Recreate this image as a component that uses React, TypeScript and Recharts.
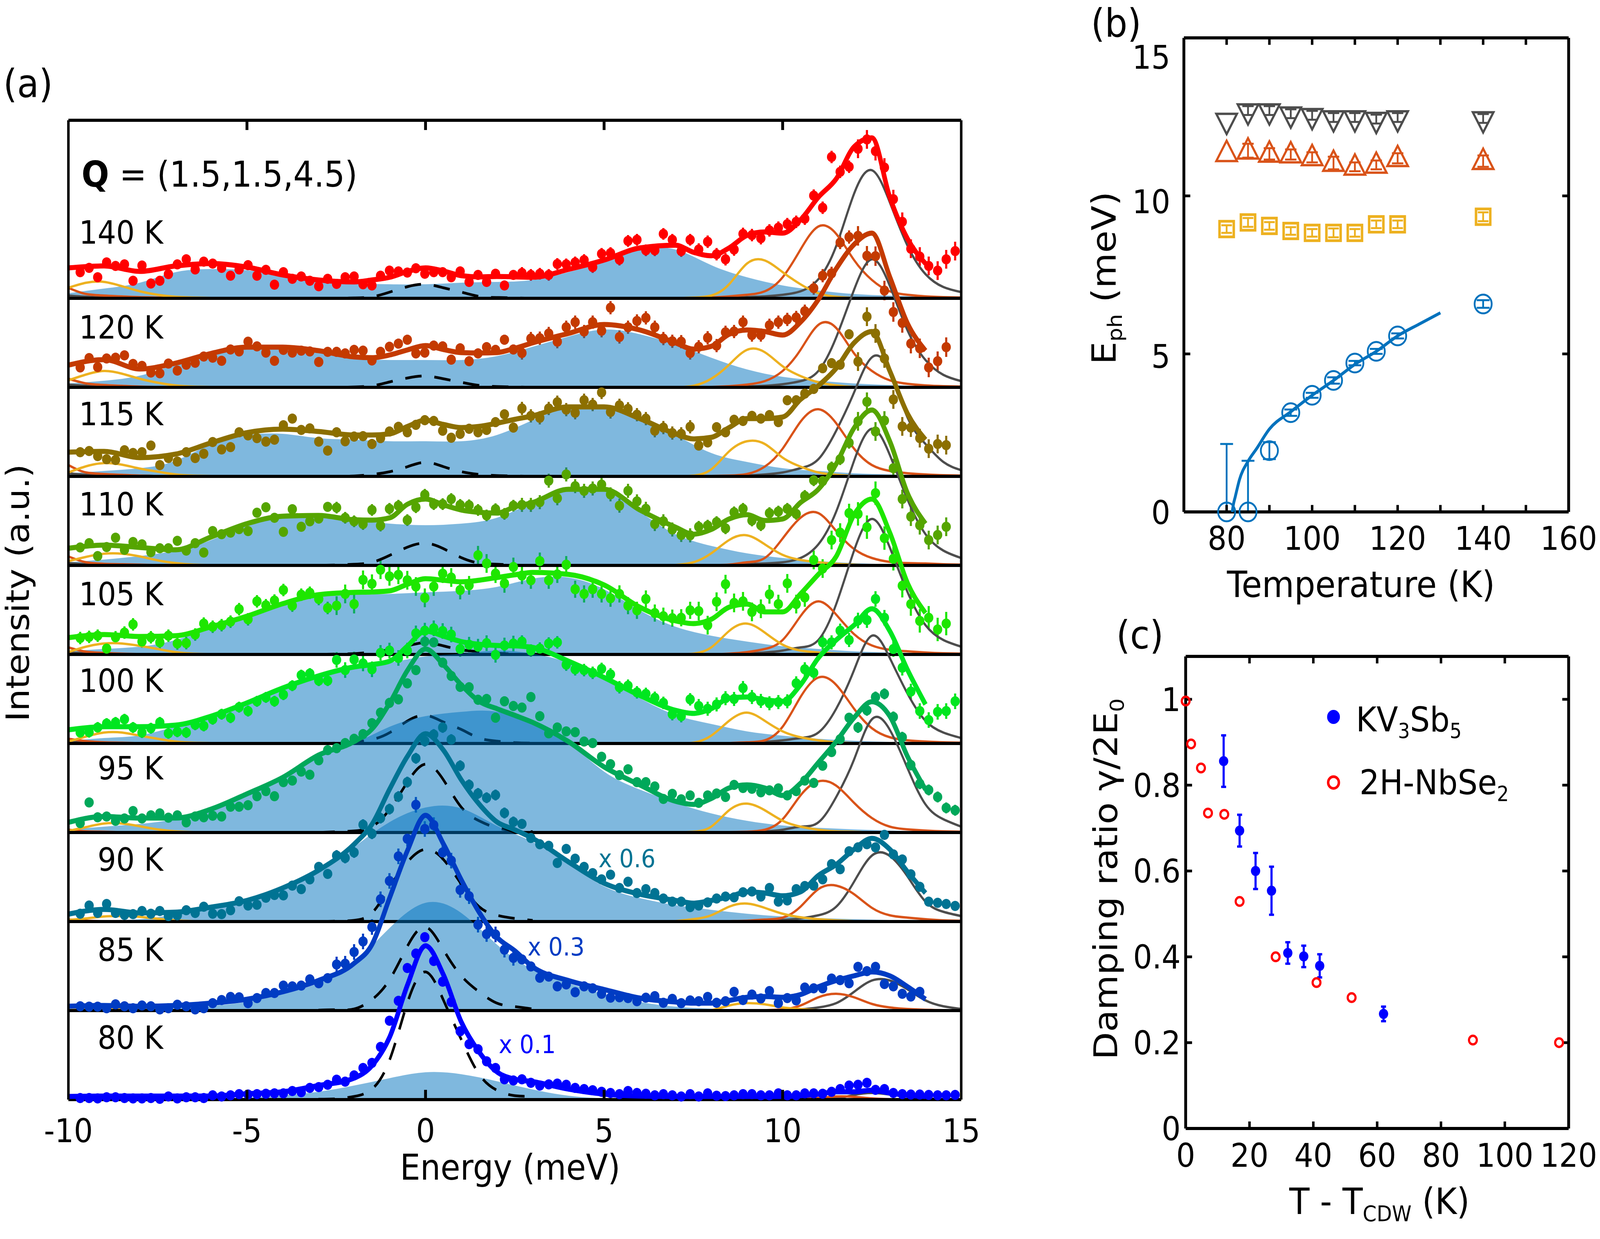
import React from 'react';
import { ComposedChart, Area, Line, Scatter, XAxis, YAxis, ReferenceLine, ErrorBar } from 'recharts';

const W = 4491, H = 3173;
const FONT = '"DejaVu Sans"';

// Energy grids (meV)
const FIT_E = [-10,-9,-8,-7,-6,-5,-4,-3,-2,-1.5,-1,-0.5,0,0.5,1,1.5,2,2.5,3,4,5,6,7,7.5,8,8.5,9,9.5,10,10.5,11,11.5,12,12.5,13,13.5,14];
const AREA_E = [-10,-9,-8,-7,-6,-5,-4,-3,-2,-1,0,1,2,3,4,5,6,7,8,9,10,11,12,13,14,15];
const PEAK_E = [7,7.5,8,8.5,9,9.5,10,10.5,11,11.5,12,12.5,13,13.5,14,14.5,15];
const LEFT_E = [-10,-9.5,-9,-8.5,-8,-7.5,-7,-6.5,-6];
const DASH_E = [-3,-2.5,-2,-1.5,-1,-0.5,0,0.5,1,1.5,2,2.5,3];
const POINT_E = [-9.67,-9.42,-9.18,-8.93,-8.68,-8.43,-8.19,-7.94,-7.69,-7.44,-7.20,-6.95,-6.70,-6.45,-6.21,-5.96,-5.71,-5.46,-5.22,-4.97,-4.72,-4.47,-4.23,-3.98,-3.73,-3.48,-3.24,-2.99,-2.74,-2.49,-2.25,-2.00,-1.75,-1.50,-1.26,-1.01,-0.76,-0.51,-0.27,-0.02,0.23,0.48,0.72,0.97,1.22,1.47,1.71,1.96,2.21,2.46,2.70,2.95,3.20,3.45,3.69,3.94,4.19,4.44,4.68,4.93,5.18,5.43,5.67,5.92,6.17,6.42,6.66,6.91,7.16,7.41,7.65,7.90,8.15,8.40,8.64,8.89,9.14,9.39,9.63,9.88,10.13,10.38,10.62,10.87,11.12,11.37,11.61,11.86,12.11,12.36,12.60,12.85,13.10,13.35,13.59,13.84,14.09,14.34,14.58,14.83];

// Measured intensity (a.u., 228 units per panel)
const P140 = [67,78,54,92,83,87,45,84,38,45,62,87,100,74,94,89,78,58,74,85,58,73,35,67,50,56,45,31,50,37,54,56,36,33,58,71,69,66,77,63,67,67,54,69,42,60,42,63,33,60,65,60,63,60,88,87,92,98,80,114,116,99,147,150,123,123,165,150,121,150,125,145,113,100,125,165,162,154,174,181,190,196,204,263,232,362,324,337,383,407,377,335,254,196,127,107,83,71,100,121];
const P120 = [51,75,52,74,76,82,60,55,38,36,61,43,58,63,79,76,68,97,92,117,105,89,68,96,89,94,92,65,91,91,87,96,94,69,91,104,112,122,87,89,107,105,71,100,67,87,103,96,122,97,88,125,126,138,117,154,167,143,167,145,204,129,154,170,178,154,125,118,117,88,104,127,107,141,143,167,134,134,159,167,174,179,195,254,286,292,371,385,388,337,336,248,193,165,112,100,51,67,103];
const P115 = [62,65,52,44,42,67,60,62,79,29,47,38,62,47,58,88,69,75,113,105,98,89,94,131,148,119,123,89,66,113,90,102,103,83,98,115,127,113,132,144,142,117,99,109,122,113,119,139,159,125,174,155,150,174,190,171,163,195,184,215,165,182,173,158,148,117,125,111,109,127,79,87,126,113,145,142,155,148,157,139,195,195,212,224,277,290,286,364,294,409,366,302,197,128,125,98,71,83,80];
const P110 = [46,57,24,47,71,40,60,54,34,44,44,63,38,57,33,88,80,84,93,88,135,149,122,86,144,99,113,120,150,148,122,113,106,142,102,145,153,116,149,181,157,157,170,155,154,142,128,144,132,153,155,155,162,217,172,233,203,191,197,207,182,153,191,164,145,106,113,92,78,77,99,102,111,95,136,145,115,103,134,138,145,132,178,218,216,251,272,314,369,419,343,371,249,170,125,103,65,78,99];
const P105 = [42,45,48,15,44,56,77,33,44,31,48,28,29,51,79,71,75,84,116,90,136,126,138,165,125,153,158,142,119,125,155,129,191,181,217,200,204,190,174,145,174,207,197,165,177,254,233,207,182,224,202,190,239,190,205,230,167,155,167,155,144,155,125,113,142,106,98,93,94,113,111,75,135,180,132,136,109,117,154,129,182,129,146,242,220,293,312,362,360,326,413,298,245,176,129,86,94,64,79];
const P100 = [28,29,41,51,54,62,41,28,39,54,26,30,28,48,45,62,75,66,93,83,108,118,108,125,148,175,179,161,161,214,188,215,205,190,232,238,219,238,282,289,295,288,279,242,253,248,257,227,251,256,261,238,243,256,259,202,190,188,181,191,177,144,148,131,127,117,104,75,70,113,96,89,100,116,114,142,119,109,103,106,108,154,190,181,259,259,289,265,315,316,370,322,242,194,133,83,60,81,83,108];
const P95 = [24,77,39,41,30,36,55,36,44,49,38,44,26,41,39,43,41,66,66,70,93,106,93,129,133,156,148,185,211,216,229,240,252,280,307,332,341,382,416,489,487,435,401,373,372,340,342,294,336,324,320,347,298,254,269,259,257,233,229,194,175,147,162,129,129,118,86,99,85,95,76,95,100,91,122,114,112,103,108,113,95,106,133,127,171,206,239,294,269,313,347,355,296,244,173,125,109,91,63,57];
const P90 = [20,41,22,45,22,17,19,27,20,27,14,16,29,22,38,20,19,29,52,41,43,61,68,67,92,83,108,140,122,169,163,177,248,225,265,288,320,357,418,462,479,497,466,399,350,328,317,324,278,255,250,214,198,194,150,186,161,140,124,108,120,86,102,73,83,73,59,51,51,37,41,49,59,64,62,75,77,64,86,51,54,83,91,92,108,147,134,180,190,198,190,222,172,159,121,89,51,48,45,40];
const P85 = [11,10,10,6,16,11,6,13,11,3,6,15,11,3,6,19,27,35,34,19,32,45,45,64,62,64,80,70,83,118,120,150,177,214,285,332,395,440,527,465,475,405,384,309,293,220,196,195,156,135,131,113,84,87,62,67,47,62,57,43,33,34,32,24,33,37,20,30,19,26,24,35,20,24,48,27,41,31,50,19,32,26,59,57,57,82,78,70,112,101,112,68,62,43,36,48];
const P80 = [4,4,3,6,6,4,3,3,4,2,8,3,6,6,4,11,8,11,14,13,14,15,16,16,22,19,30,32,38,51,46,62,81,94,135,202,253,337,374,416,355,302,250,175,142,129,98,81,52,49,52,43,36,39,41,38,30,27,24,20,17,14,22,17,15,11,14,11,8,14,8,16,10,9,11,14,14,11,11,16,11,11,16,16,15,20,27,36,38,43,25,27,17,14,13,13,12,11,11,12];

// Fit curves on FIT_E
const FIT140 = [78,83,69,83,89,80,60,47,42,47,54,69,78,70,58,55,56,55,54,74,98,129,136,118,109,129,161,170,167,201,259,306,388,411,259,152,89];
const FIT120 = [57,71,47,62,87,103,103,94,78,76,83,96,107,97,89,88,89,100,114,138,161,147,114,98,105,136,147,143,134,167,225,304,366,395,283,163,94];
const FIT115 = [62,64,48,57,86,112,121,115,106,106,109,128,144,133,125,128,136,146,155,178,178,148,109,96,100,125,148,148,152,197,232,277,342,371,270,160,94];
const FIT110 = [44,52,46,40,73,107,126,128,117,116,122,157,170,155,142,136,134,150,161,195,195,142,98,80,92,119,130,115,119,161,195,260,352,398,318,184,107];
const FIT105 = [43,51,46,48,71,98,130,153,159,160,163,180,194,190,186,190,197,204,210,205,178,121,86,79,90,121,129,109,109,155,205,251,358,398,312,182,106];
const FIT100 = [35,43,43,47,70,104,142,173,196,202,211,250,288,275,261,254,251,250,246,211,169,123,85,77,89,116,119,112,108,150,219,265,303,345,288,188,100];
const FIT95 = [26,41,37,37,60,99,141,198,233,265,332,416,470,430,378,336,317,300,282,233,168,122,80,72,87,114,122,114,95,126,179,233,294,335,298,194,110];
const FIT90 = [19,31,22,24,37,54,86,131,198,249,340,424,481,439,363,301,255,235,213,153,98,70,54,47,54,63,76,73,66,76,118,146,185,213,185,127,73];
const FIT85 = [11,13,11,13,19,29,48,77,121,169,290,411,500,427,335,252,188,153,112,77,54,32,22,19,19,26,34,36,34,41,61,77,89,99,89,61,29];
const FIT80 = [8,9,9,9,9,15,20,36,55,87,161,295,394,320,199,122,71,52,46,27,14,9,8,8,8,8,8,8,8,10,14,20,20,24,17,11,8];

// Broad central mode on AREA_E
const BLUE140 = [13,25,40,67,75,72,58,44,38,36,36,40,42,47,67,94,125,125,85,54,33,20,11,7,4,2];
const BLUE120 = [10,17,30,58,83,100,102,90,75,70,70,70,80,104,130,148,136,110,76,46,27,17,10,6,3,2];
const BLUE115 = [8,14,21,40,83,106,109,98,94,90,90,90,106,144,175,175,148,106,60,37,21,14,8,5,2,1];
const BLUE110 = [8,15,24,38,65,103,122,122,115,107,103,107,122,161,191,191,138,80,50,31,19,11,6,3,2,1];
const BLUE105 = [8,14,20,37,67,94,127,148,153,155,159,163,173,194,197,167,113,71,48,33,21,14,8,5,3,2];
const BLUE100 = [6,14,21,43,66,100,139,169,192,207,223,230,238,230,207,165,116,73,50,31,20,12,7,4,2,1];
const BLUE95 = [7,15,22,34,57,95,137,194,229,271,298,309,309,275,229,156,110,76,49,30,18,12,8,5,3,2];
const BLUE90 = [3,4,6,18,32,50,83,128,191,255,292,290,245,204,148,90,60,42,30,20,13,9,6,4,2,1];
const BLUE85 = [2,2,3,6,12,22,42,70,124,212,276,250,169,105,70,42,22,10,5,3,2,1,1,0,0,0];
const BLUE80 = [0,0,0,0,1,5,11,20,36,55,70,65,47,26,10,3,1,0,0,0,0,0,0,0,0,0];

// Phonon peaks on PEAK_E
const YEL140 = [0,2,7,36,89,97,67,36,13,4,1,0,0,0,0,0,0];
const ORG140 = [0,0,2,5,9,18,54,125,184,165,98,47,18,9,5,3,2];
const GRY140 = [0,0,0,1,3,5,9,18,49,134,268,328,246,134,62,29,16];
const YEL120 = [0,4,22,58,96,90,54,29,13,5,1,0,0,0,0,0,0];
const ORG120 = [0,0,1,3,7,16,42,96,160,152,87,42,18,9,5,3,2];
const GRY120 = [0,0,0,0,2,4,8,16,42,128,250,328,260,145,70,32,16];
const YEL115 = [0,2,18,64,90,83,48,25,10,4,1,0,0,0,0,0,0];
const ORG115 = [0,0,1,2,6,25,71,140,172,136,71,29,14,8,5,3,2];
const GRY115 = [0,0,0,1,2,5,10,21,44,117,215,305,270,150,83,37,16];
const YEL110 = [1,8,31,65,77,54,27,14,8,4,2,0,0,0,0,0,0];
const ORG110 = [0,0,1,2,8,19,69,122,134,88,42,19,9,6,5,3,2];
const GRY110 = [0,0,0,1,3,5,8,19,54,138,268,350,283,168,80,38,19];
const YEL105 = [0,2,18,60,79,56,25,10,5,2,1,0,0,0,0,0,0];
const ORG105 = [0,0,0,2,6,14,37,98,136,102,52,23,12,8,5,3,2];
const GRY105 = [0,0,0,0,2,5,10,18,37,129,266,347,274,159,75,37,20];
const YEL100 = [0,2,20,58,79,58,31,16,8,3,1,0,0,0,0,0,0];
const ORG100 = [0,0,0,1,3,8,43,119,169,150,89,39,16,8,5,3,2];
const GRY100 = [0,0,0,0,1,4,8,14,28,89,188,276,219,127,58,28,14];
const YEL95 = [0,2,15,57,74,57,30,15,7,3,2,0,0,0,0,0,0];
const ORG95 = [0,0,0,1,2,7,34,95,131,120,76,37,15,8,5,3,2];
const GRY95 = [0,0,0,0,1,3,7,15,26,91,187,290,263,164,72,34,15];
const YEL90 = [1,6,16,38,46,35,20,11,6,3,1,0,0,0,0,0,0];
const ORG90 = [0,0,0,1,2,5,10,38,83,92,70,35,16,10,6,3,2];
const GRY90 = [0,0,0,0,0,2,4,8,16,38,102,169,168,115,51,25,14];
const YEL85 = [0,0,1,13,19,16,8,4,1,0,0,0,0,0,0,0,0];
const ORG85 = [0,0,0,0,0,1,3,13,34,43,34,17,8,4,2,1,1];
const GRY85 = [0,0,0,0,0,0,1,3,8,19,48,77,77,54,26,11,4];
const YEL80 = [0,0,0,1,3,3,2,1,0,0,0,0,0,0,0,0,0];
const ORG80 = [0,0,0,0,0,0,1,2,4,8,7,3,1,0,0,0,0];
const GRY80 = [0,0,0,0,0,0,0,1,2,3,12,17,13,7,3,1,0];

// Anti-Stokes side on LEFT_E
const LY140 = [27,40,42,31,18,9,4,2,1];
const LY120 = [18,33,42,35,22,12,5,2,1];
const LY115 = [10,26,34,30,20,12,5,2,1];
const LY110 = [11,22,30,30,23,13,6,2,1];
const LY105 = [6,20,28,28,22,14,6,2,1];
const LY100 = [5,18,28,28,20,12,5,2,1];
const LY95 = [4,14,23,23,16,8,3,1,0];
const LY90 = [4,8,13,14,12,7,3,1,0];
const LY85 = [1,3,4,4,3,2,1,0,0];
const LY80 = [0,0,1,1,1,0,0,0,0];
const LO140 = [27,11,7,5,3,2,1,0,0];
const LO120 = [22,10,6,4,2,1,1,0,0];
const LO115 = [29,10,6,4,2,1,1,0,0];
const LO110 = [23,8,4,3,2,1,1,0,0];
const LO105 = [18,7,4,2,1,1,0,0,0];
const LO100 = [12,6,3,2,1,1,0,0,0];
const LO95 = [7,3,2,1,1,0,0,0,0];
const LO90 = [5,2,1,1,0,0,0,0,0];
const LO85 = [1,0,0,0,0,0,0,0,0];
const LO80 = [0,0,0,0,0,0,0,0,0];
const LG140 = [7,4,2,2,1,1,0,0,0];
const LG120 = [7,4,2,2,1,1,0,0,0];
const LG115 = [8,4,3,2,2,1,1,0,0];
const LG110 = [6,3,2,1,1,0,0,0,0];
const LG105 = [5,3,2,1,1,0,0,0,0];
const LG100 = [4,2,1,1,0,0,0,0,0];
const LG95 = [3,1,1,0,0,0,0,0,0];
const LG90 = [2,1,0,0,0,0,0,0,0];
const LG85 = [0,0,0,0,0,0,0,0,0];
const LG80 = [0,0,0,0,0,0,0,0,0];

// Dashed elastic-line curves on DASH_E
const D140 = [0,0,1,4,16,30,36,27,16,5,2,1,0];
const D120 = [0,0,1,4,14,24,29,22,13,5,2,1,0];
const D115 = [0,0,1,5,12,25,36,25,12,5,2,1,0];
const D110 = [0,1,3,8,26,47,57,43,20,6,3,1,0];
const D105 = [0,1,2,6,12,22,30,22,12,7,3,1,0];
const D100 = [0,1,4,10,28,58,72,55,36,14,6,2,1];
const D95 = [0,2,4,15,60,130,175,135,65,30,12,5,2];
const D90 = [0,1,3,22,89,153,185,159,96,38,16,8,3];
const D85 = [1,2,4,28,80,166,214,156,89,48,19,10,4];
const D80 = [1,2,8,27,103,250,327,255,154,65,24,10,9];

// Error half-lengths by energy zone
const ERR_ZONE_LIMITS = [-2.5,2.5,7.5,12];
const ERR140 = [8,10,15,16,24];
const ERR120 = [10,13,17,17,25];
const ERR115 = [10,13,17,13,24];
const ERR110 = [10,15,18,15,24];
const ERR105 = [16,24,22,24,30];
const ERR100 = [14,20,16,18,20];
const ERR95 = [8,13,10,10,14];
const ERR90 = [6,14,8,8,10];
const ERR85 = [4,20,6,6,8];
const ERR80 = [2,10,3,3,3];

const TEMPS = ['140 K','120 K','115 K','110 K','105 K','100 K','95 K','90 K','85 K','80 K'];
const COLORS = ['#ff0000','#c43a00','#8c6f00','#55a500','#1ee600','#00e620','#00a85a','#007393','#003cc3','#0000ff'];
const LABEL_Y = [596,839,1061,1292,1522,1744,1968,2202,2433,2658];
const SERIES = [
  [P140,FIT140,BLUE140,YEL140,ORG140,GRY140,LY140,LO140,LG140,D140,ERR140],
  [P120,FIT120,BLUE120,YEL120,ORG120,GRY120,LY120,LO120,LG120,D120,ERR120],
  [P115,FIT115,BLUE115,YEL115,ORG115,GRY115,LY115,LO115,LG115,D115,ERR115],
  [P110,FIT110,BLUE110,YEL110,ORG110,GRY110,LY110,LO110,LG110,D110,ERR110],
  [P105,FIT105,BLUE105,YEL105,ORG105,GRY105,LY105,LO105,LG105,D105,ERR105],
  [P100,FIT100,BLUE100,YEL100,ORG100,GRY100,LY100,LO100,LG100,D100,ERR100],
  [P95,FIT95,BLUE95,YEL95,ORG95,GRY95,LY95,LO95,LG95,D95,ERR95],
  [P90,FIT90,BLUE90,YEL90,ORG90,GRY90,LY90,LO90,LG90,D90,ERR90],
  [P85,FIT85,BLUE85,YEL85,ORG85,GRY85,LY85,LO85,LG85,D85,ERR85],
  [P80,FIT80,BLUE80,YEL80,ORG80,GRY80,LY80,LO80,LG80,D80,ERR80],
];
const ENERGY_TICKS = [-10,-5,0,5,10,15];
const ENERGY_MARKS = [-5,0,5,10];
const PANEL_H = 228;
const STACK_MAX = 2508;

// Panel (b)
const TEMP_K = [80,85,90,95,100,105,110,115,120,140];
const E_GRAY = [12.4,12.7,12.7,12.6,12.55,12.48,12.48,12.43,12.48,12.45];
const E_ORANGE = [11.35,11.43,11.33,11.31,11.22,11.04,10.92,10.98,11.19,11.1];
const E_YELLOW = [8.95,9.16,9.05,8.89,8.83,8.83,8.83,9.1,9.1,9.34];
const E_BLUE = [0,0,1.94,3.14,3.69,4.16,4.71,5.08,5.57,6.58];
const ERR_GRAY = [0,0.14,0.14,0.14,0.14,0.14,0.14,0.14,0.14,0.14];
const ERR_ORANGE = [0,0.22,0.18,0.16,0.16,0.2,0.14,0.14,0.16,0.18];
const ERR_YELLOW = [0.12,0.14,0.12,0.12,0.12,0.14,0.12,0.12,0.12,0.14];
const ERR_BLUE_UP = [2.15,1.62,0.27,0.1,0.08,0.1,0.07,0.08,0.08,0.12];
const ERR_BLUE_DN = [0,0,0.27,0.1,0.08,0.1,0.07,0.08,0.08,0.12];
const GAP_T = [81.3,81.6,82,83,85,87,90,95,100,105,110,115,120,125,130];
const GAP_E = [0,0.25,0.47,1.02,1.6,2.0,2.62,3.17,3.69,4.16,4.67,5.08,5.57,5.94,6.3];
const B_X_LABELS = [80,100,120,140,160];
const B_X_MARKS = [80,90,100,110,120,130,140,150];
const B_Y_LABELS = [0,5,10,15];
const B_Y_MARKS = [5,10];
const B_Y_LABEL_SHIFT = [2,6,15,50];

// Panel (c)
const KV_X = [11.9,16.9,21.9,26.9,32,37,42,62];
const KV_Y = [0.856,0.694,0.6,0.554,0.409,0.401,0.379,0.267];
const KV_ERR = [0.06,0.037,0.042,0.056,0.025,0.025,0.027,0.017];
const NB_X = [0,1.7,4.8,7,12.1,16.9,28.2,41,52,90,117];
const NB_Y = [0.996,0.896,0.84,0.735,0.732,0.529,0.4,0.34,0.305,0.206,0.2];
const C_X_LABELS = [0,20,40,60,80,100,120];
const C_X_MARKS = [20,40,60,80,100];
const C_Y_LABELS = [0,0.2,0.4,0.6,0.8,1];
const C_Y_MARKS = [0.2,0.4,0.6,0.8,1];

const rows = (xs: number[], ys: number[], base = 0) => ys.map((y, i) => ({ x: xs[i], y: y + base }));

const zoneOf = (e: number) => { let z = 0; ERR_ZONE_LIMITS.forEach((l) => { if (e > l) z += 1; }); return z; };

const Dot = (r: number, color: string) => (p: any) => <circle cx={p.cx} cy={p.cy} r={r} fill={color} />;
const Ring = (r: number, color: string, sw: number) => (p: any) => <circle cx={p.cx} cy={p.cy} r={r} fill="none" stroke={color} strokeWidth={sw} />;
const Up = (color: string) => (p: any) => <path d={`M${p.cx} ${p.cy - 32}L${p.cx + 29} ${p.cy + 20}L${p.cx - 29} ${p.cy + 20}Z`} fill="none" stroke={color} strokeWidth={6} strokeLinejoin="miter" />;
const Down = (color: string) => (p: any) => <path d={`M${p.cx} ${p.cy + 36}L${p.cx + 29} ${p.cy - 16}L${p.cx - 29} ${p.cy - 16}Z`} fill="none" stroke={color} strokeWidth={6} strokeLinejoin="miter" />;
const Sq = (color: string) => (p: any) => <rect x={p.cx - 20} y={p.cy - 20} width={40} height={40} fill="none" stroke={color} strokeWidth={7} />;

const Txt = ({ x, y, size = 84, anchor = 'left', color = '#000', rot = 0, children }: any) => {
  const tx = anchor === 'left' ? '0' : anchor === 'right' ? '-100%' : '-50%';
  return (
    <div style={{ position: 'absolute', left: x, top: y, fontSize: size, fontFamily: FONT, color, lineHeight: 1, whiteSpace: 'nowrap', transform: `translate(${tx},-50%)${rot ? ` rotate(${rot}deg)` : ''}` }}>
      {children}
    </div>
  );
};
const Sub = ({ children, s = 0.6 }: any) => <span style={{ fontSize: `${s}em`, position: 'relative', top: '0.32em' }}>{children}</span>;

const layer: any = { position: 'absolute', left: 0, top: 0 };

// Short inward tick marks, placed through the chart's own scales
const xMarks = (vals: number[], y0: number, y1: number, len: number, z: number, sw = 7) => vals.flatMap((v) => [
  <ReferenceLine key={`b${v}`} segment={[{ x: v, y: y0 }, { x: v, y: y0 + len }]} stroke="#000" strokeWidth={sw} zIndex={z} />,
  <ReferenceLine key={`t${v}`} segment={[{ x: v, y: y1 }, { x: v, y: y1 - len }]} stroke="#000" strokeWidth={sw} zIndex={z} />,
]);
const yMarks = (vals: number[], x0: number, x1: number, len: number, z: number, sw = 7) => vals.flatMap((v) => [
  <ReferenceLine key={`l${v}`} segment={[{ x: x0, y: v }, { x: x0 + len, y: v }]} stroke="#000" strokeWidth={sw} zIndex={z} />,
  <ReferenceLine key={`r${v}`} segment={[{ x: x1, y: v }, { x: x1 - len, y: v }]} stroke="#000" strokeWidth={sw} zIndex={z} />,
]);

function PanelA() {
  const L = 192, R = 2698, T = 308, B = 2816, xh = 60;
  return (
    <div style={layer}>
      <ComposedChart width={W} height={H} margin={{ left: L, right: W - R, top: T, bottom: H - B - xh }}>
        <XAxis xAxisId={0} dataKey="x" type="number" domain={[-10, 15]} ticks={ENERGY_TICKS} interval={0} orientation="bottom" height={xh}
          tickSize={-24} tickMargin={73} tickLine={false} axisLine={false}
          tick={{ fontSize: 84, fontFamily: FONT, fill: '#000' }} />
        <YAxis yAxisId={0} type="number" domain={[0, STACK_MAX]} hide />
        {SERIES.map((s, p) => {
          const base = (9 - p) * PANEL_H;
          const z = 1000 + p * 20;
          const [pts, fit, blue, yel, org, gry, ly, lo, lg, dash, err] = s;
          const c = COLORS[p];
          const pointData = pts.map((y, i) => ({ x: POINT_E[i], y: y + base, err: err[zoneOf(POINT_E[i])] }));
          const areaData = blue.map((y, i) => ({ x: AREA_E[i], y: [base, base + y] }));
          return (
            <React.Fragment key={TEMPS[p]}>
              <Area data={areaData} dataKey="y" type="natural" fill="#0072BD" fillOpacity={0.5} stroke="none" isAnimationActive={false} dot={false} activeDot={false} zIndex={z} />
              <Line data={rows(DASH_E, dash, base)} dataKey="y" type="natural" stroke="#000" strokeWidth={7} strokeDasharray="46 36" dot={false} activeDot={false} isAnimationActive={false} zIndex={z + 1} />
              <Line data={rows(LEFT_E, lg, base)} dataKey="y" type="monotone" stroke="#4d4d4d" strokeWidth={6} dot={false} activeDot={false} isAnimationActive={false} zIndex={z + 2} />
              <Line data={rows(LEFT_E, lo, base)} dataKey="y" type="monotone" stroke="#D95319" strokeWidth={6} dot={false} activeDot={false} isAnimationActive={false} zIndex={z + 3} />
              <Line data={rows(LEFT_E, ly, base)} dataKey="y" type="natural" stroke="#EDB120" strokeWidth={6} dot={false} activeDot={false} isAnimationActive={false} zIndex={z + 4} />
              <Line data={rows(PEAK_E, gry, base)} dataKey="y" type="natural" stroke="#4d4d4d" strokeWidth={6} dot={false} activeDot={false} isAnimationActive={false} zIndex={z + 5} />
              <Line data={rows(PEAK_E, org, base)} dataKey="y" type="natural" stroke="#D95319" strokeWidth={6} dot={false} activeDot={false} isAnimationActive={false} zIndex={z + 6} />
              <Line data={rows(PEAK_E, yel, base)} dataKey="y" type="natural" stroke="#EDB120" strokeWidth={6} dot={false} activeDot={false} isAnimationActive={false} zIndex={z + 7} />
              <ReferenceLine y={base} stroke="#000" strokeWidth={8} zIndex={z + 8} />
              <Scatter data={pointData} dataKey="y" fill={c} shape={Dot(13, c)} isAnimationActive={false} zIndex={z + 9}>
                <ErrorBar dataKey="err" direction="y" width={0} stroke={c} strokeWidth={6} isAnimationActive={false} />
              </Scatter>
              <Line data={rows(FIT_E, fit, base)} dataKey="y" type="monotone" stroke={c} strokeWidth={13} dot={false} activeDot={false} isAnimationActive={false} zIndex={z + 10} />
            </React.Fragment>
          );
        })}
        {xMarks(ENERGY_MARKS, 0, STACK_MAX, 25, 1290, 8)}
        <ReferenceLine y={STACK_MAX} stroke="#000" strokeWidth={8} zIndex={1300} />
        <ReferenceLine x={-10} stroke="#000" strokeWidth={7} zIndex={1300} />
        <ReferenceLine x={15} stroke="#000" strokeWidth={7} zIndex={1300} />
      </ComposedChart>
    </div>
  );
}

const frameAxis = { axisLine: { stroke: '#000', strokeWidth: 8 }, tickLine: false };
const tickFont = { fontSize: 84, fontFamily: FONT, fill: '#000' };

const BYTick = (p: any) => (
  <text x={p.x} y={p.y + B_Y_LABEL_SHIFT[B_Y_LABELS.indexOf(p.payload.value)]} textAnchor="end" dominantBaseline="central" fontSize={84} fontFamily={FONT} fill="#000">
    {p.payload.value}
  </text>
);

function PanelB() {
  const L = 3323, R = 4403, T = 97, B = 1311, ax = 60;
  const withErr = (ys: number[], up: number[], dn?: number[]) => ys.map((y, i) => ({ x: TEMP_K[i], y, err: dn ? [dn[i], up[i]] : up[i] }));
  return (
    <div style={layer}>
      <ComposedChart width={W} height={H} margin={{ left: L - ax, right: W - R - ax, top: T - ax, bottom: H - B - ax }}>
        <XAxis xAxisId={0} dataKey="x" type="number" domain={[70, 160]} ticks={B_X_LABELS} interval={0} height={ax} tickSize={-18} tickMargin={55} {...frameAxis} tick={tickFont} />
        <XAxis xAxisId="top" type="number" domain={[70, 160]} ticks={B_X_LABELS} interval={0} orientation="top" height={ax} {...frameAxis} tick={false} />
        <YAxis yAxisId={0} type="number" domain={[0, 15]} ticks={B_Y_LABELS} interval={0} width={ax} tickSize={-18} tickMargin={56} {...frameAxis} tick={BYTick} />
        <YAxis yAxisId="right" type="number" domain={[0, 15]} ticks={B_Y_LABELS} interval={0} orientation="right" width={ax} {...frameAxis} tick={false} />
        {xMarks(B_X_MARKS, 0, 15, 0.22, 690)}
        {yMarks(B_Y_MARKS, 70, 160, 1.5, 690)}
        <Line data={rows(GAP_T, GAP_E)} dataKey="y" type="monotone" stroke="#0072BD" strokeWidth={8} dot={false} activeDot={false} isAnimationActive={false} zIndex={700} />
        <Scatter data={withErr(E_GRAY, ERR_GRAY)} dataKey="y" shape={Down('#4d4d4d')} isAnimationActive={false} zIndex={710}>
          <ErrorBar dataKey="err" direction="y" width={16} stroke="#4d4d4d" strokeWidth={5} isAnimationActive={false} />
        </Scatter>
        <Scatter data={withErr(E_ORANGE, ERR_ORANGE)} dataKey="y" shape={Up('#D95319')} isAnimationActive={false} zIndex={711}>
          <ErrorBar dataKey="err" direction="y" width={16} stroke="#D95319" strokeWidth={5} isAnimationActive={false} />
        </Scatter>
        <Scatter data={withErr(E_YELLOW, ERR_YELLOW)} dataKey="y" shape={Sq('#EDB120')} isAnimationActive={false} zIndex={712}>
          <ErrorBar dataKey="err" direction="y" width={15} stroke="#EDB120" strokeWidth={5} isAnimationActive={false} />
        </Scatter>
        <Scatter data={withErr(E_BLUE, ERR_BLUE_UP, ERR_BLUE_DN)} dataKey="y" shape={Ring(24, '#0072BD', 5)} isAnimationActive={false} zIndex={713}>
          <ErrorBar dataKey="err" direction="y" width={18} stroke="#0072BD" strokeWidth={5} isAnimationActive={false} />
        </Scatter>
      </ComposedChart>
    </div>
  );
}

function PanelC() {
  const L = 3328, R = 4403, T = 1681, B = 2890, ax = 60;
  const kv = KV_X.map((x, i) => ({ x, y: KV_Y[i], err: KV_ERR[i] }));
  return (
    <div style={layer}>
      <ComposedChart width={W} height={H} margin={{ left: L - ax, right: W - R - ax, top: T - ax, bottom: H - B - ax }}>
        <XAxis xAxisId={0} dataKey="x" type="number" domain={[0, 120]} ticks={C_X_LABELS} interval={0} height={ax} tickSize={-18} tickMargin={56} {...frameAxis} tick={tickFont} />
        <XAxis xAxisId="top" type="number" domain={[0, 120]} ticks={C_X_LABELS} interval={0} orientation="top" height={ax} {...frameAxis} tick={false} />
        <YAxis yAxisId={0} type="number" domain={[0, 1.1]} ticks={C_Y_LABELS} interval={0} width={ax} tickSize={-18} tickMargin={32} {...frameAxis} tick={tickFont} />
        <YAxis yAxisId="right" type="number" domain={[0, 1.1]} ticks={C_Y_LABELS} interval={0} orientation="right" width={ax} {...frameAxis} tick={false} />
        {xMarks(C_X_MARKS, 0, 1.1, 0.0164, 690)}
        {yMarks(C_Y_MARKS, 0, 120, 2, 690)}
        <Scatter data={rows(NB_X, NB_Y)} dataKey="y" shape={Ring(11, '#ff0000', 6)} isAnimationActive={false} zIndex={700} />
        <Scatter data={kv} dataKey="y" shape={Dot(13, '#0000ff')} isAnimationActive={false} zIndex={710}>
          <ErrorBar dataKey="err" direction="y" width={7} stroke="#0000ff" strokeWidth={6} isAnimationActive={false} />
        </Scatter>
      </ComposedChart>
    </div>
  );
}

export default function App() {
  // The browser may cap the window below the reference's width; fit the whole figure across the window actually given.
  const sx = Math.min(1, window.innerWidth / W);
  return (
    <div style={{ position: 'absolute', left: 0, top: 0, width: W, height: H, background: '#fff', transform: `scaleX(${sx})`, transformOrigin: '0 0' }}>
      <PanelA />
      <PanelB />
      <PanelC />
      <Txt x={9} y={215} size={100}>(a)</Txt>
      <Txt x={3062} y={60} size={100}>(b)</Txt>
      <Txt x={3133} y={1627} size={100}>(c)</Txt>
      <Txt x={229} y={446} size={91}><b>Q</b> = (1.5,1.5,4.5)</Txt>
      {TEMPS.map((t, i) => <Txt key={t} x={458} y={LABEL_Y[i]} size={82} anchor="right">{t}</Txt>)}
      <Txt x={1680} y={2199} size={64} color="#007393">x 0.6</Txt>
      <Txt x={1481} y={2425} size={64} color="#003cc3">x 0.3</Txt>
      <Txt x={1400} y={2675} size={64} color="#0000ff">x 0.1</Txt>
      <Txt x={50} y={1518} size={90} anchor="center" rot={-90}>Intensity (a.u.)</Txt>
      <Txt x={1432} y={2990} size={90} anchor="center">Energy (meV)</Txt>
      <Txt x={3820} y={1497} size={93} anchor="center">Temperature (K)</Txt>
      <Txt x={3100} y={712} size={93} anchor="center" rot={-90}>E<Sub>ph</Sub> (meV)</Txt>
      <Txt x={3872} y={3077} size={93} anchor="center">T - T<Sub>CDW</Sub> (K)</Txt>
      <Txt x={3105} y={2251} size={92} anchor="center" rot={-90}>Damping ratio γ/2E<Sub>0</Sub></Txt>
      <svg style={{ position: 'absolute', left: 0, top: 0 }} width={W} height={H}>
        <circle cx={3743} cy={1836} r={18} fill="#0000ff" />
        <circle cx={3743} cy={2004} r={15} fill="none" stroke="#ff0000" strokeWidth={7} />
      </svg>
      <Txt x={3806} y={1843} size={88}>KV<Sub>3</Sub>Sb<Sub>5</Sub></Txt>
      <Txt x={3816} y={2004} size={88}>2H-NbSe<Sub>2</Sub></Txt>
    </div>
  );
}
